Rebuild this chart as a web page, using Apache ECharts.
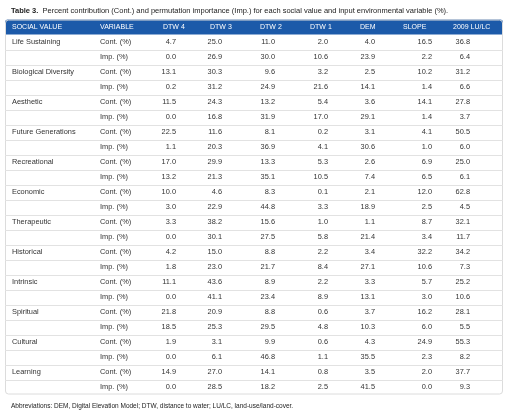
<!DOCTYPE html>
<html><head><meta charset="utf-8">
<script src="https://cdn.jsdelivr.net/npm/echarts@6/dist/echarts.min.js"></script>
<style>html,body{margin:0;padding:0;background:#fff}#c{width:510px;height:414px}</style>
</head><body><div id="c"></div>
<script>
// ---- data ----
const socialValues = ['Life Sustaining','Biological Diversity','Aesthetic','Future Generations','Recreational','Economic','Therapeutic','Historical','Intrinsic','Spiritual','Cultural','Learning'];
const variableLabels = ['Cont. (%)','Imp. (%)'];
const headers = ['SOCIAL VALUE','VARIABLE','DTW 4','DTW 3','DTW 2','DTW 1','DEM','SLOPE','2009 LU/LC'];
const dtw4Cont = [4.7,13.1,11.5,22.5,17.0,10.0,3.3,4.2,11.1,21.8,1.9,14.9];
const dtw4Imp  = [0.0,0.2,0.0,1.1,13.2,3.0,0.0,1.8,0.0,18.5,0.0,0.0];
const dtw3Cont = [25.0,30.3,24.3,11.6,29.9,4.6,38.2,15.0,43.6,20.9,3.1,27.0];
const dtw3Imp  = [26.9,31.2,16.8,20.3,21.3,22.9,30.1,23.0,41.1,25.3,6.1,28.5];
const dtw2Cont = [11.0,9.6,13.2,8.1,13.3,8.3,15.6,8.8,8.9,8.8,9.9,14.1];
const dtw2Imp  = [30.0,24.9,31.9,36.9,35.1,44.8,27.5,21.7,23.4,29.5,46.8,18.2];
const dtw1Cont = [2.0,3.2,5.4,0.2,5.3,0.1,1.0,2.2,2.2,0.6,0.6,0.8];
const dtw1Imp  = [10.6,21.6,17.0,4.1,10.5,3.3,5.8,8.4,8.9,4.8,1.1,2.5];
const demCont  = [4.0,2.5,3.6,3.1,2.6,2.1,1.1,3.4,3.3,3.7,4.3,3.5];
const demImp   = [23.9,14.1,29.1,30.6,7.4,18.9,21.4,27.1,13.1,10.3,35.5,41.5];
const slopeCont= [16.5,10.2,14.1,4.1,6.9,12.0,8.7,32.2,5.7,16.2,24.9,2.0];
const slopeImp = [2.2,1.4,1.4,1.0,6.5,2.5,3.4,10.6,3.0,6.0,2.3,0.0];
const luccCont = [36.8,31.2,27.8,50.5,25.0,62.8,32.1,34.2,25.2,28.1,55.3,37.7];
const luccImp  = [6.4,6.6,3.7,6.0,6.1,4.5,11.7,7.3,10.6,5.5,8.2,9.3];
const titleBold = 'Table 3.';
const titleText = 'Percent contribution (Cont.) and permutation importance (Imp.) for each social value and input environmental variable (%).';
const footnote = 'Abbreviations: DEM, Digital Elevation Model; DTW, distance to water; LU/LC, land-use/land-cover.';

// ---- layout (table units, across table width) ----
const tableWidth = 498;
const colHeaderX = [7,95,158,205,255,305,355,398,448];
const colDataX   = [7,95,171,217,270,323,370,427,465];
const colDataAlign = ['left','left','right','right','right','right','right','right','right'];

const contCols = [dtw4Cont,dtw3Cont,dtw2Cont,dtw1Cont,demCont,slopeCont,luccCont];
const impCols  = [dtw4Imp,dtw3Imp,dtw2Imp,dtw1Imp,demImp,slopeImp,luccImp];

const rows = [headers];
socialValues.forEach((sv, i) => {
  rows.push([sv, variableLabels[0]].concat(contCols.map(c => c[i].toFixed(1))));
  rows.push(['', variableLabels[1]].concat(impCols.map(c => c[i].toFixed(1))));
});
const nRows = rows.length;
const rowIdx = rows.map((_, i) => i);

const cellData = [];
rows.forEach((r, ri) => r.forEach((t, ci) => {
  if (t !== '') cellData.push([ri === 0 ? colHeaderX[ci] : colDataX[ci], ri, t, ri === 0 ? 'left' : colDataAlign[ci]]);
}));

const FONT = '"Liberation Sans", Arial, Helvetica, sans-serif';
const chart = echarts.init(document.getElementById('c'), null, {renderer: 'canvas'});
chart.setOption({
  animation: false,
  backgroundColor: '#fff',
  title: [
    {left: 6, top: 2, text: '{b|' + titleBold + '}  ' + titleText,
     textStyle: {fontFamily: FONT, fontSize: 7.5, fontWeight: 'normal', color: '#222',
       rich: {b: {fontFamily: FONT, fontSize: 7.5, fontWeight: 'bold', color: '#222'}}}},
    {left: 6, top: 398, text: footnote,
     textStyle: {fontFamily: FONT, fontSize: 6.5, fontWeight: 'normal', color: '#222'}}
  ],
  grid: {left: 5, top: 19.5, width: tableWidth, height: 15 * nRows},
  xAxis: {type: 'value', min: 0, max: tableWidth, show: false},
  yAxis: {type: 'category', data: rowIdx, inverse: true, show: false},
  series: [
    {
      type: 'custom', silent: true, z: 1,
      data: rowIdx.map(r => [0, r]),
      renderItem: function (params, api) {
        const r = api.value(1);
        const p0 = api.coord([0, r]);
        const p1 = api.coord([tableWidth, r]);
        const h = api.size([0, 1])[1];
        const top = p0[1] - h / 2, bot = p0[1] + h / 2;
        const children = [];
        if (r === 0) {
          children.push({type: 'rect', shape: {x: p0[0], y: top, width: p1[0] - p0[0], height: h, r: [3,3,0,0]},
            style: {fill: '#1c5aa9'}});
          children.push({type: 'rect', shape: {x: p0[0] + 0.5, y: top + 0.5, width: p1[0] - p0[0] - 1, height: h * nRows - 1, r: 3},
            style: {fill: 'none', stroke: '#dcdcdc', lineWidth: 1}});
        } else if (r < nRows - 1) {
          children.push({type: 'line', shape: {x1: p0[0], y1: Math.round(bot) + 0.5, x2: p1[0], y2: Math.round(bot) + 0.5},
            style: {stroke: '#e2e2e2', lineWidth: 1.2}});
        }
        return {type: 'group', children: children};
      }
    },
    {
      type: 'custom', silent: true, z: 3,
      data: cellData,
      renderItem: function (params, api) {
        const d = cellData[params.dataIndex];
        const p = api.coord([d[0], d[1]]);
        return {type: 'text', style: {
          text: d[2], x: p[0], y: p[1], align: d[3], verticalAlign: 'middle',
          fill: d[1] === 0 ? '#ffffff' : '#333333',
          fontFamily: FONT, fontSize: d[1] === 0 ? 7 : 7.4
        }};
      }
    }
  ]
});
</script></body></html>
